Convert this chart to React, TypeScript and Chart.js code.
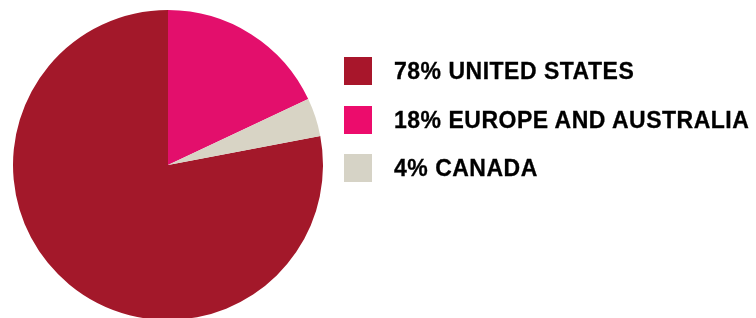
import React, { useEffect, useRef } from "react";
import { Chart, registerables } from "chart.js";

Chart.register(...registerables);

const categories = ["UNITED STATES", "EUROPE AND AUSTRALIA", "CANADA"];
const values = [78, 18, 4];
const colors = ["#a3182a", "#e30f6c", "#d8d4c5"];
const legendColors = ["#a8162b", "#ec0c6c", "#d6d3c6"];

export default function App() {
  const ref = useRef<HTMLCanvasElement | null>(null);

  useEffect(() => {
    if (!ref.current) return;
    const total = values.reduce((a, b) => a + b, 0);
    const rotation = (1 - values[0] / total) * 360;
    const chart = new Chart(ref.current, {
      type: "pie",
      data: {
        labels: categories,
        datasets: [
          {
            data: values,
            backgroundColor: colors,
            borderWidth: 0,
          },
        ],
      },
      options: {
        animation: false,
        responsive: false,
        devicePixelRatio: 1,
        rotation,
        layout: { padding: { left: 13, top: 10, right: 433, bottom: 10 } },
        plugins: {
          legend: { display: false },
          tooltip: { enabled: false },
        },
      },
    });
    return () => chart.destroy();
  }, []);

  return (
    <div
      style={{
        position: "fixed",
        left: 0,
        top: 0,
        width: 756,
        height: 318,
        overflow: "hidden",
        background: "#ffffff",
      }}
    >
      <canvas ref={ref} width={756} height={330} style={{ position: "absolute", left: 0, top: 0 }} />
      {categories.map((c, i) => (
        <div
          key={c}
          style={{
            position: "absolute",
            left: 344,
            top: 57 + i * 48.6,
            height: 28,
            display: "flex",
            alignItems: "center",
            whiteSpace: "nowrap",
          }}
        >
          <div style={{ width: 28, height: 28, background: legendColors[i] }} />
          <span
            style={{
              marginLeft: 22,
              fontFamily: "'Liberation Sans', Arial, sans-serif",
              fontWeight: 700,
              fontSize: 23,
              lineHeight: "28px",
              letterSpacing: "0.5px",
              color: "#000",
              WebkitTextStroke: "0.3px #000",
            }}
          >
            {values[i]}% {c}
          </span>
        </div>
      ))}
    </div>
  );
}
